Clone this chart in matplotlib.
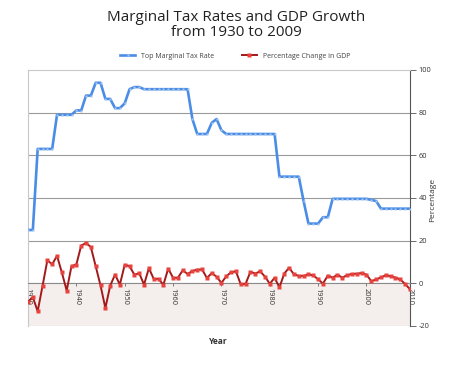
import numpy as np
import matplotlib
matplotlib.use("Agg")
import matplotlib.pyplot as plt

years = np.arange(1930, 2010)

# top marginal income tax rate (%)
tax_rate = [
    25, 25, 63, 63, 63, 63, 79, 79, 79, 79,
    81.1, 81, 88, 88, 94, 94, 86.45, 86.45, 82.13, 82.13,
    84.36, 91, 92, 92, 91, 91, 91, 91, 91, 91,
    91, 91, 91, 91, 77, 70, 70, 70, 75.25, 77,
    71.75, 70, 70, 70, 70, 70, 70, 70, 70, 70,
    70, 70, 50, 50, 50, 50, 50, 38.5, 28, 28,
    28, 31, 31, 39.6, 39.6, 39.6, 39.6, 39.6, 39.6, 39.6,
    39.6, 39.1, 38.6, 35, 35, 35, 35, 35, 35, 35,
]

# percentage change in real GDP
gdp_change = [
    -8.6, -6.5, -13.1, -1.3, 10.8, 8.9, 12.9, 5.1, -3.4, 8.1,
    8.8, 17.7, 18.9, 17.0, 8.0, -1.0, -11.6, -1.1, 4.1, -0.6,
    8.7, 8.0, 4.1, 4.7, -0.6, 7.1, 2.1, 2.1, -0.7, 6.9,
    2.6, 2.6, 6.1, 4.4, 5.8, 6.4, 6.5, 2.5, 4.8, 3.1,
    0.2, 3.3, 5.2, 5.6, -0.5, -0.2, 5.4, 4.6, 5.6, 3.2,
    -0.2, 2.6, -1.9, 4.6, 7.3, 4.2, 3.5, 3.5, 4.2, 3.7,
    1.9, -0.1, 3.6, 2.7, 4.0, 2.7, 3.8, 4.4, 4.5, 4.8,
    4.1, 1.0, 1.8, 2.8, 3.8, 3.3, 2.7, 1.8, -0.3, -2.8,
]

tick_years = [1930, 1940, 1950, 1960, 1970, 1980, 1990, 2000, 2009]
tick_labels = ["1930", "1940", "1950", "1960", "1970", "1980", "1990", "2000", "2010"]
y_ticks = [-20, 0, 20, 40, 60, 80, 100]

plt.rcParams["font.family"] = ["Open Sans", "DejaVu Sans"]

fig = plt.figure(figsize=(4.5, 3.67), dpi=100)
ax = fig.add_axes([28 / 450, 1 - 326 / 367, 382 / 450, 256 / 367])

ax.axhspan(-20, 0, color="#f4efed", zorder=0)
for y in [20, 40, 60, 80]:
    ax.axhline(y, color="#9a9a9a", lw=0.8, zorder=1)
ax.axhline(-20, color="#c8c8c8", lw=0.8, zorder=1)

ax.plot(years, tax_rate, color="#4a8de6", lw=1.9, marker="s", ms=1.8,
        mfc="#a8c6ee", mec="none", zorder=3, label="Top Marginal Tax Rate")
ax.plot(years, gdp_change, color="#a3191a", lw=1.4, marker="s", ms=3,
        mfc="#e8423e", mec="none", zorder=3, label="Percentage Change in GDP")

ax.set_xlim(1930, 2009)
ax.set_ylim(-20, 100)

ax.spines["bottom"].set_position(("data", 0))
ax.spines["bottom"].set_color("#8a8a8a")
ax.spines["bottom"].set_linewidth(0.8)
ax.spines["left"].set_color("#c8c8c8")
ax.spines["top"].set_color("#c8c8c8")
ax.spines["right"].set_color("#555555")
ax.spines["right"].set_linewidth(0.8)

ax.set_xticks(tick_years)
ax.set_xticklabels(tick_labels, rotation=-90, fontsize=5.3, color="#333333")
ax.tick_params(axis="x", direction="out", length=2, width=0.6, color="#666666", pad=1)

ax.yaxis.tick_right()
ax.set_yticks(y_ticks)
ax.set_yticklabels([str(v) for v in y_ticks], fontsize=5.3, color="#333333")
ax.tick_params(axis="y", direction="out", length=4, width=0.6, color="#555555", pad=2)
ax.tick_params(axis="y", which="both", left=False)

fig.text(433 / 450, 1 - 200 / 367, "Percentage", rotation=90, ha="center", va="center",
         fontsize=6, color="#333333")
fig.text(218 / 450, 1 - 341 / 367, "Year", ha="center", va="center",
         fontsize=6, fontweight="bold", color="#333333")

fig.text(236 / 450, 1 - 25 / 367, "Marginal Tax Rates and GDP Growth\nfrom 1930 to 2009",
         ha="center", va="center", fontsize=11, color="#222222", linespacing=1.0)

fig.legend(loc="center", bbox_to_anchor=(235 / 450, 1 - 56 / 367), ncol=2, frameon=False,
           fontsize=5, handlelength=2.2, columnspacing=4, handletextpad=0.8,
           labelcolor="#444444")

fig.savefig("out.png", dpi=100)
